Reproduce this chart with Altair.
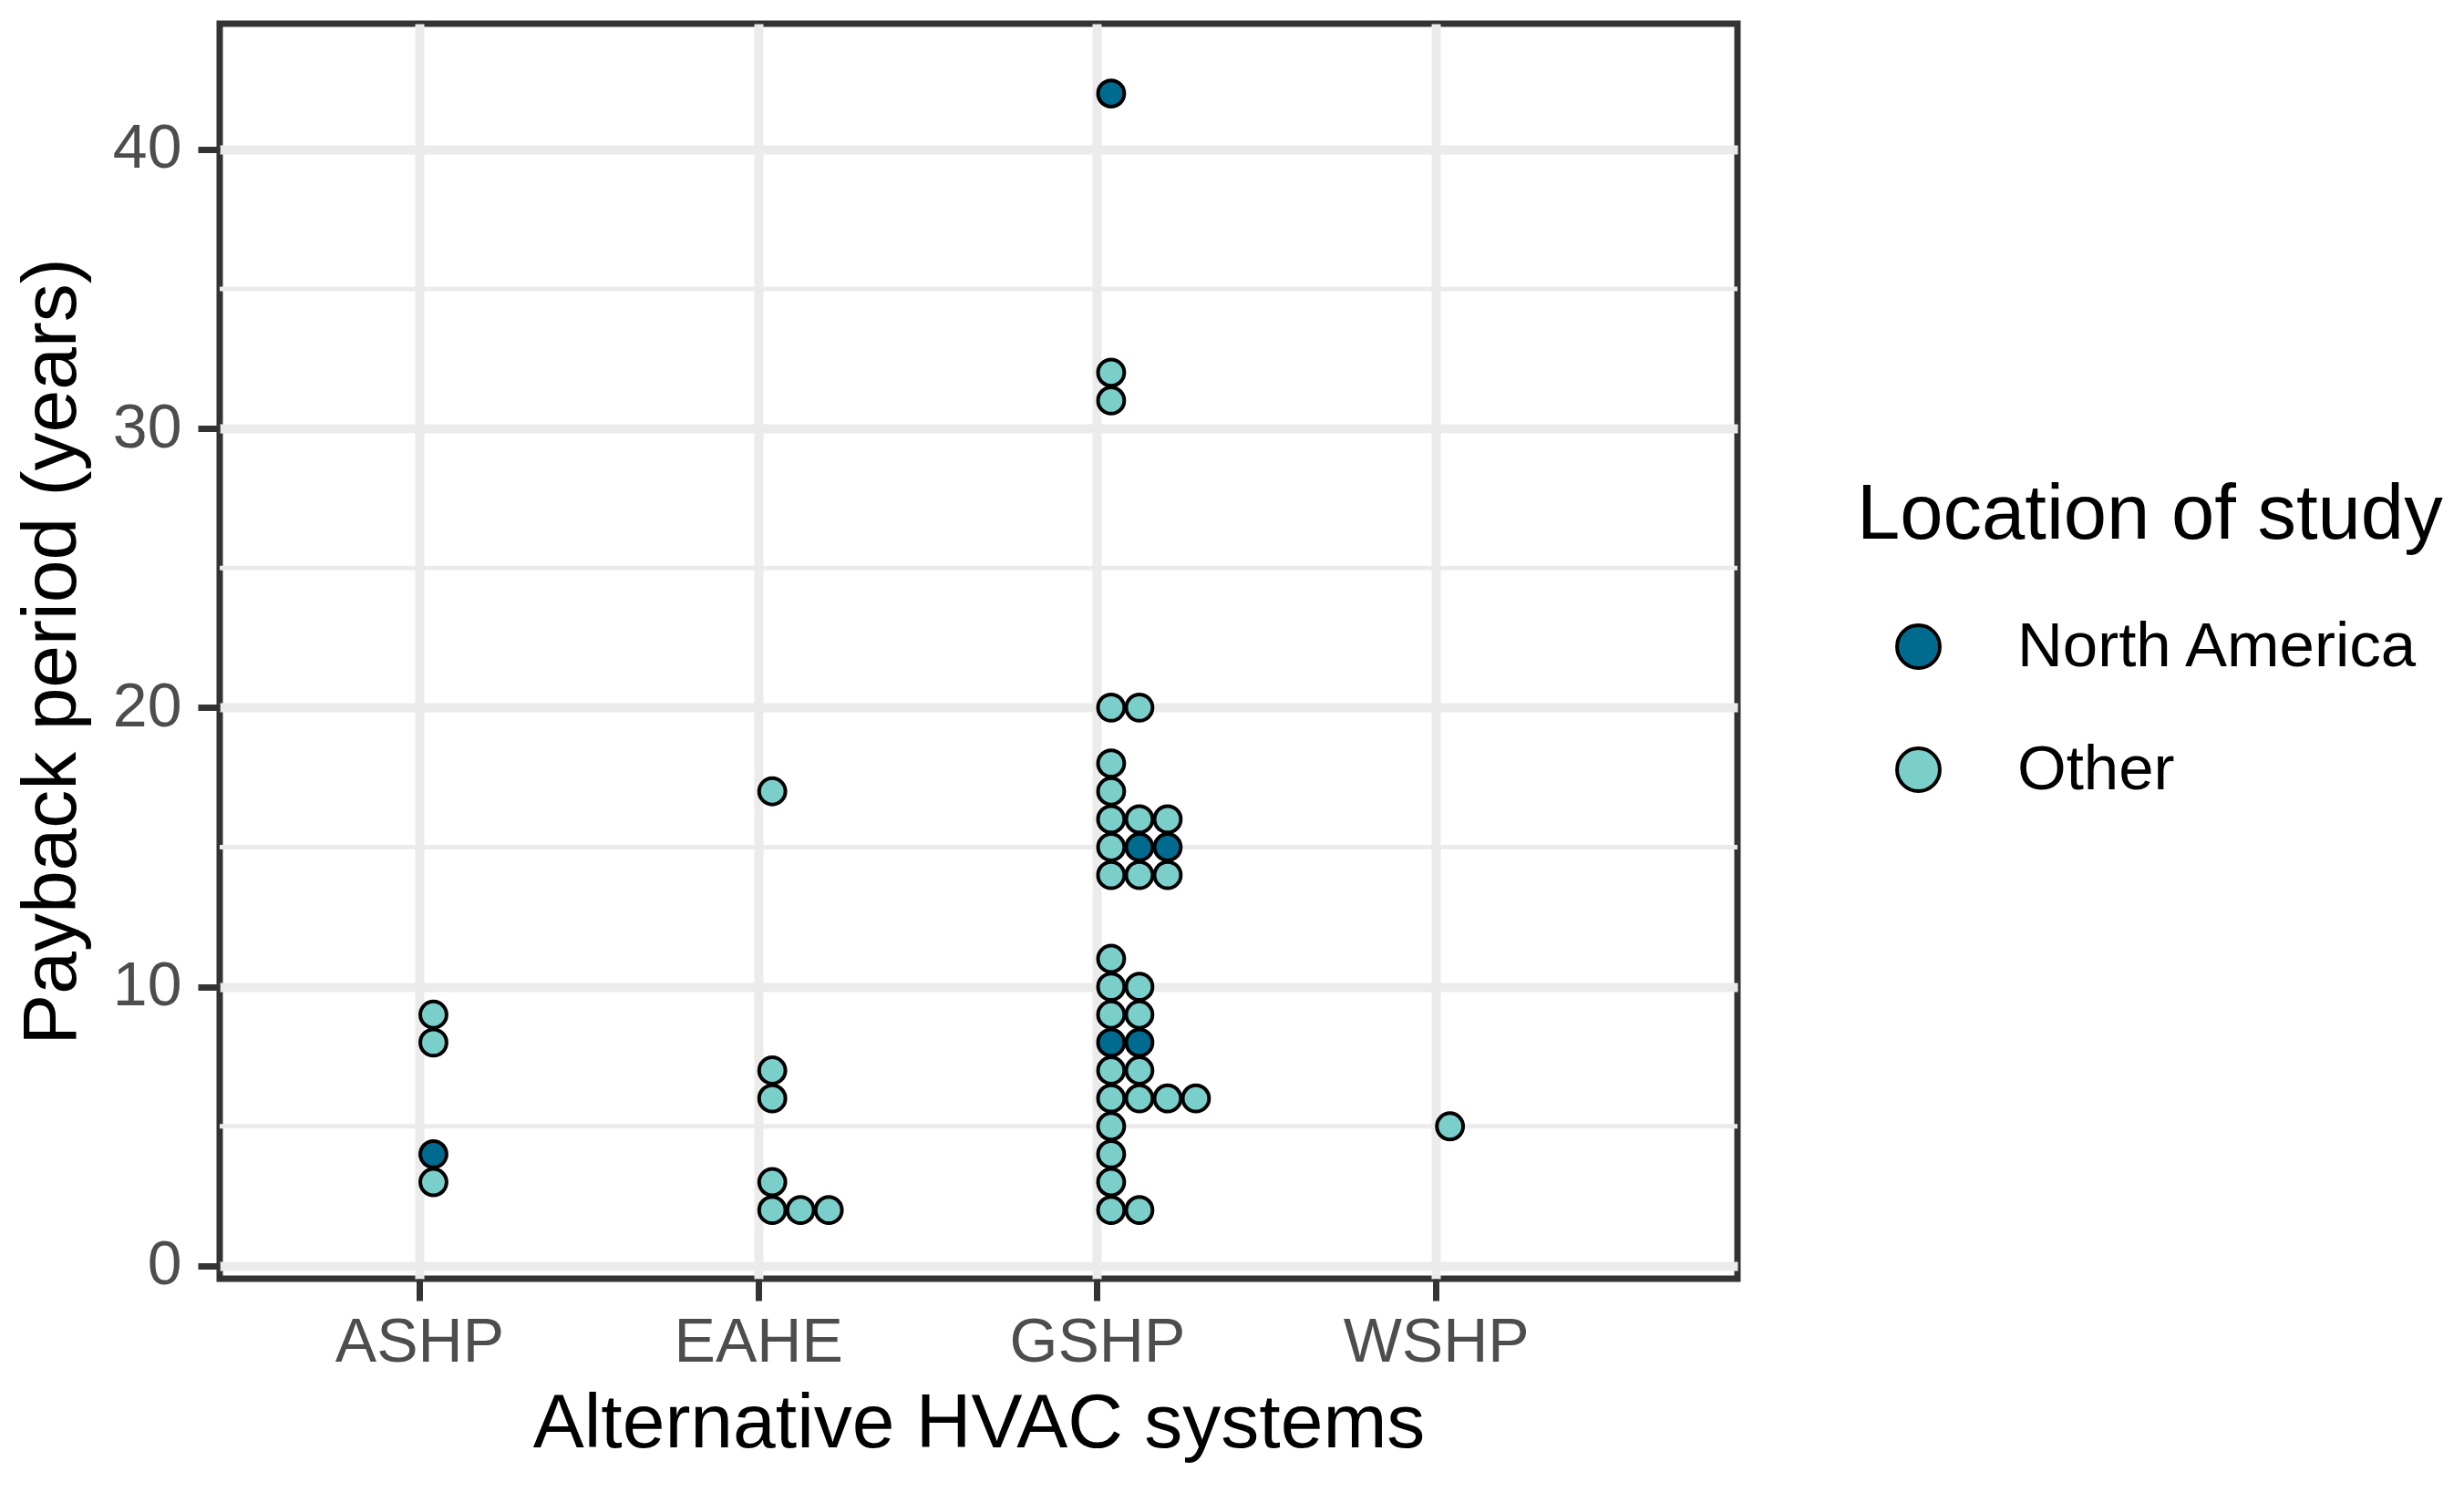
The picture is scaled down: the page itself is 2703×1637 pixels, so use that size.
import altair as alt
import pandas as pd

categories = ["ASHP", "EAHE", "GSHP", "WSHP"]
locations = ["North America", "Other"]
colors = ["#006B8F", "#7ACFCA"]

ashp_values = [9, 8, 4, 3]
ashp_loc = ["Other", "Other", "North America", "Other"]

eahe_values = [17, 7, 6, 3, 2, 2, 2]
eahe_loc = ["Other"] * 7

gshp_values = [42, 32, 31, 20, 20, 18, 17, 16, 16, 16, 15, 15, 15, 14, 14, 14,
               11, 10, 10, 9, 9, 8, 8, 7, 7, 6, 6, 6, 6, 5, 4, 3, 2, 2]
gshp_loc = (["North America"] + ["Other"] * 10 + ["North America", "North America"]
            + ["Other"] * 8 + ["North America", "North America"] + ["Other"] * 11)

wshp_values = [5]
wshp_loc = ["Other"]

y_ticks = [0, 10, 20, 30, 40]
y_minor = [5, 15, 25, 35]

rows = []
for name, vals, locs in [("ASHP", ashp_values, ashp_loc), ("EAHE", eahe_values, eahe_loc),
                         ("GSHP", gshp_values, gshp_loc), ("WSHP", wshp_values, wshp_loc)]:
    for v, l in zip(vals, locs):
        rows.append({"system": name, "idx": categories.index(name), "payback": v, "location": l})
df = pd.DataFrame(rows)
minor_df = pd.DataFrame({"y": y_minor})

FONT = "Liberation Sans"
W, H = 1665, 1377
STEP = 0.0834  # horizontal stacking step in category units (dot diameter)

yscale = alt.Scale(domain=[-0.46, 44.5], nice=False, zero=False)
xscale = alt.Scale(domain=[-0.589, 3.89], nice=False, zero=False)

yaxis = alt.Axis(values=y_ticks, title="Payback period (years)",
                 titlePadding=23, labelPadding=18)

minor = alt.Chart(minor_df).mark_rule(color="#EBEBEB", strokeWidth=5).encode(
    y=alt.Y("y:Q", scale=yscale, axis=yaxis, title="Payback period (years)")
)

label_expr = "[" + ",".join("'" + c + "'" for c in categories) + "][datum.value]"

points = alt.Chart(df).transform_window(
    stack="row_number()",
    groupby=["system", "payback"],
    sort=[alt.SortField("location", order="descending")],
).transform_calculate(
    xpos=f"datum.idx + (datum.stack - 0.5) * {STEP}"
).mark_circle(stroke="black", strokeWidth=4, opacity=1, size=830).encode(
    x=alt.X("xpos:Q", scale=xscale,
            axis=alt.Axis(values=[0, 1, 2, 3], labelExpr=label_expr,
                          title="Alternative HVAC systems", titlePadding=14,
                          labelPadding=12)),
    y=alt.Y("payback:Q", scale=yscale, axis=yaxis, title="Payback period (years)"),
    fill=alt.Fill("location:N", scale=alt.Scale(domain=locations, range=colors),
                  legend=alt.Legend(title="Location of study", orient="none",
                                    legendX=1796, legendY=498,
                                    titleFontSize=85, titleFont=FONT, titleColor="black",
                                    titleFontWeight="normal", titlePadding=66,
                                    titleLimit=0, labelLimit=0,
                                    labelFontSize=69, labelFont=FONT, labelColor="black",
                                    symbolType="circle", symbolSize=2200,
                                    symbolStrokeWidth=4, symbolStrokeColor="black",
                                    symbolOffset=33, labelOffset=74, rowPadding=65)),
)

chart = alt.layer(minor, points).properties(
    width=W, height=H,
    autosize=alt.AutoSizeParams(type="none"),
    padding={"left": 233, "top": 18, "right": 780, "bottom": 215},
).configure_view(
    stroke="#333333", strokeWidth=7
).configure_axis(
    labelFont=FONT, titleFont=FONT, labelFontSize=68, titleFontSize=84,
    labelColor="#4D4D4D", titleColor="black", titleFontWeight="normal",
    labelLimit=0, titleLimit=0,
    domain=False, tickColor="#333333", tickWidth=7, tickSize=24,
    gridColor="#EBEBEB", gridWidth=10,
)

chart.save("out.html", embed_options={"renderer": "svg", "actions": False})
